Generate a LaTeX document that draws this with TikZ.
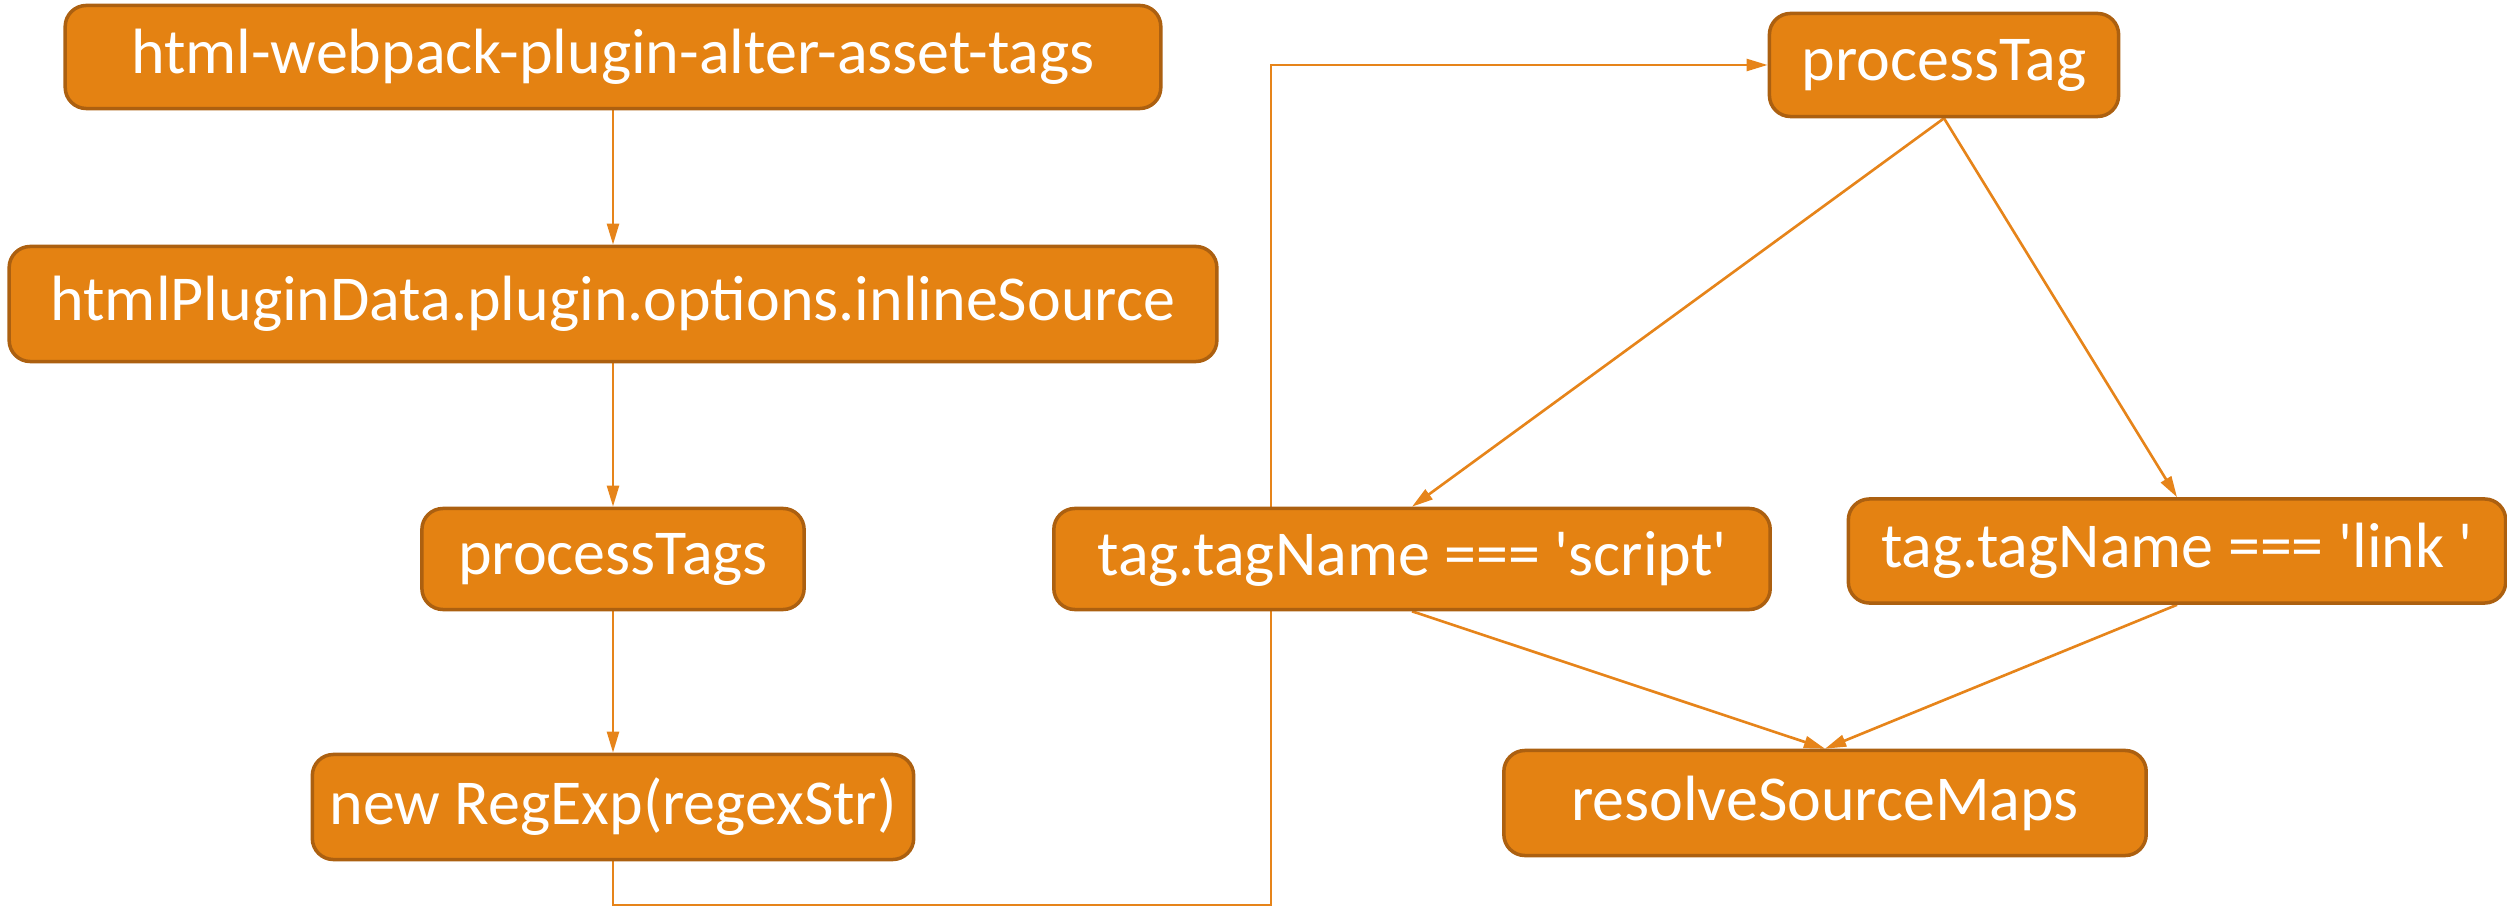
\documentclass[tikz,border=0pt]{standalone}
\usepackage{fontspec}
\setmainfont{Carlito}
\usetikzlibrary{arrows.meta,backgrounds}
\definecolor{boxfill}{RGB}{228,130,18}
\definecolor{boxline}{RGB}{172,96,16}
\definecolor{wire}{RGB}{230,132,26}
\newcommand{\sq}{\textquotesingle}
\tikzset{
  stepbox/.style={draw=boxline, line width=1pt, fill=boxfill, rounded corners=6pt,
    text=white, font=\fontsize{18.2}{21}\selectfont, inner sep=0pt, align=center},
  wire/.style={draw=wire, line width=0.75pt},
  flow/.style={wire, -{Triangle[length=6pt,width=3.4pt]}}
}
\begin{document}
\begin{tikzpicture}[x=0.01cm,y=-0.01cm]
\useasboundingbox (0,0) rectangle (2507,907);
% left column
\node[stepbox, minimum width=10.95cm, minimum height=1.03cm] (alter) at (613,57) {html-webpack-plugin-alter-asset-tags};
\node[stepbox, minimum width=12.07cm, minimum height=1.15cm] (inline) at (613,304) {htmlPluginData.plugin.options.inlineSource};
\node[stepbox, minimum width=3.82cm, minimum height=1.01cm] (tags) at (613,559) {processTags};
\node[stepbox, minimum width=6.01cm, minimum height=1.05cm] (regex) at (613,807) {new RegExp(regexStr)};
% right part
\node[stepbox, minimum width=3.49cm, minimum height=1.03cm] (tag) at (1944,65) {processTag};
\node[stepbox, minimum width=7.16cm, minimum height=1.01cm] (script) at (1412,559) {tag.tagName === \sq script\sq};
\node[stepbox, minimum width=6.57cm, minimum height=1.04cm] (link) at (2177,551) {tag.tagName === \sq link \sq};
\node[stepbox, minimum width=6.42cm, minimum height=1.05cm] (maps) at (1825,803) {resolveSourceMaps};
\coordinate (loop) at (1271,905);
\begin{scope}[on background layer]
\draw[flow] (alter.south) -- (inline.north);
\draw[flow] (inline.south) -- (tags.north);
\draw[flow] (tags.south) -- (regex.north);
\draw[flow] (regex.south) |- (loop) |- (tag.west);
\draw[flow] (tag.south) -- (script.north);
\draw[flow] (tag.south) -- (link.north);
\draw[flow] (script.south) -- (maps.north);
\draw[flow] (link.south) -- (maps.north);
\end{scope}
\end{tikzpicture}
\end{document}
